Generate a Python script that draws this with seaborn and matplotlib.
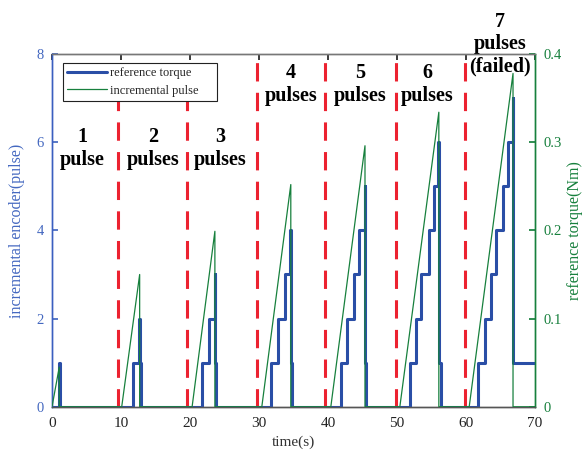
import matplotlib
matplotlib.use('Agg')
import matplotlib.pyplot as plt
import numpy as np
import pandas as pd
import seaborn as sns

# incremental pulse ramps (right axis, Nm)
ramp_start = [0.0, 10.1, 20.3, 30.4, 40.4, 50.4, 60.45]
ramp_end = [1.05, 12.7, 23.6, 34.6, 45.35, 56.05, 66.8]
ramp_peak = [0.045, 0.15, 0.199, 0.252, 0.296, 0.334, 0.378]

# reference torque staircases (left axis, pulses)
step_times = [
    [1.0],
    [11.74, 12.62],
    [21.8, 22.75, 23.55],
    [31.7, 32.8, 33.7, 34.5],
    [41.9, 42.8, 43.7, 44.5, 45.3],
    [51.9, 52.7, 53.4, 54.6, 55.3, 56.0],
    [61.7, 62.8, 63.65, 64.4, 65.35, 66.1, 66.75],
]
drop_times = [1.2, 12.7, 23.6, 34.6, 45.35, 56.05, 66.8]
hold_level = [0, 1, 1, 1, 1, 1, 1]
hold_end = [1.2, 12.9, 23.8, 34.8, 45.55, 56.3, 70.0]

boundaries = [9.6, 19.6, 29.7, 39.6, 49.8, 59.8]
test_labels = ['1\npulse', '2\npulses', '3\npulses', '4\npulses',
               '5\npulses', '6\npulses', '7\npulses\n(failed)']
label_x = [4.4, 14.6, 24.4, 34.6, 44.6, 54.4, 64.9]
label_y = [5.86, 5.86, 5.86, 7.31, 7.31, 7.31, 8.22]

x_ticks = [0, 10, 20, 30, 40, 50, 60, 70]
left_ticks = [0, 2, 4, 6, 8]
right_ticks = [0, 0.1, 0.2, 0.3, 0.4]

# ---- build series ----
bt, bv = [0.0], [0]
for steps, d, hl, he in zip(step_times, drop_times, hold_level, hold_end):
    for k, st in enumerate(steps):
        bt.append(st); bv.append(k + 1)
    bt.append(d); bv.append(hl)
    if hl and he < 70:
        bt.append(he); bv.append(0)
if bt[-1] < 70:
    bt.append(70.0); bv.append(bv[-1])
blue_df = pd.DataFrame({'t': bt, 'v': bv})

gt, gv = [], []
for s, e, p in zip(ramp_start, ramp_end, ramp_peak):
    gt += [s, e, e]; gv += [0, p, 0]
gt.append(70.0); gv.append(0)
green_df = pd.DataFrame({'t': gt, 'v': gv})

sns.set_theme(style='white')
plt.rcParams['font.family'] = ['Liberation Serif', 'DejaVu Serif']

BLUE = '#2a4ea6'
BLUE_TXT = '#4468c0'
GREEN = '#17803d'
RED = '#ec2230'

fig = plt.figure(figsize=(5.87, 4.54), dpi=100)
ax = fig.add_axes([0.0886, 0.104, 0.823, 0.777])
ax2 = ax.twinx()

for b in boundaries:
    ax.axvline(b, color=RED, lw=2.2, linestyle=(0, (6, 3.7)), zorder=1)

sns.lineplot(data=blue_df, x='t', y='v', ax=ax, estimator=None, sort=False,
             drawstyle='steps-post', color=BLUE, lw=2.2, zorder=3,
             label='reference torque', legend=False)
sns.lineplot(data=green_df, x='t', y='v', ax=ax2, estimator=None, sort=False,
             color=GREEN, lw=0.9, zorder=3, label='incremental pulse', legend=False)

ax.set_xlim(0, 70)
ax.set_ylim(0, 8)
ax2.set_ylim(0, 0.4)
ax.set_xticks(x_ticks)
ax.set_yticks(left_ticks)
ax2.set_yticks(right_ticks)
ax2.set_yticklabels(['0', '0.1', '0.2', '0.3', '0.4'])

ax.set_xlabel('time(s)', fontsize=11, color='#333333', labelpad=4)
ax.set_ylabel('incremental encoder(pulse)', fontsize=11.5, color=BLUE_TXT, labelpad=8)
ax2.set_ylabel('reference torque(Nm)', fontsize=11.5, color=GREEN, labelpad=4)

ax.tick_params(axis='x', direction='in', top=True, length=4, labelsize=11,
               colors='#222222', pad=7)
ax.tick_params(axis='y', direction='in', length=4, labelsize=10.5,
               colors=BLUE_TXT, pad=6)
ax2.tick_params(axis='y', direction='in', length=4, labelsize=10.5,
                colors=GREEN, pad=6)

for a in (ax, ax2):
    a.spines['top'].set_color('#777777')
    a.spines['bottom'].set_color('#555555')
    a.spines['left'].set_color('#3a5fc0')
    a.spines['right'].set_color(GREEN)
    for sp in a.spines.values():
        sp.set_linewidth(1.0)

for txt, x, y in zip(test_labels, label_x, label_y):
    ax.text(x, y, txt, ha='center', va='center', fontsize=14.5,
            fontweight='bold', color='black', linespacing=1.15,
            clip_on=False, zorder=5)

handles = [l for l in ax.get_lines() if l.get_label() == 'reference torque'] + \
          [l for l in ax2.get_lines() if l.get_label() == 'incremental pulse']
leg = ax2.legend(handles, ['reference torque', 'incremental pulse'],
                 loc='upper left', bbox_to_anchor=(0.023, 0.87, 0.319, 0.105),
                 mode='expand', fontsize=9, frameon=True, fancybox=False,
                 framealpha=1, edgecolor='#222222',
                 handlelength=3.2, handletextpad=0.2, borderpad=0.35,
                 labelspacing=0.45, borderaxespad=0)
leg.get_frame().set_linewidth(0.8)
leg.set_zorder(10)

fig.savefig('out.png', dpi=100)
